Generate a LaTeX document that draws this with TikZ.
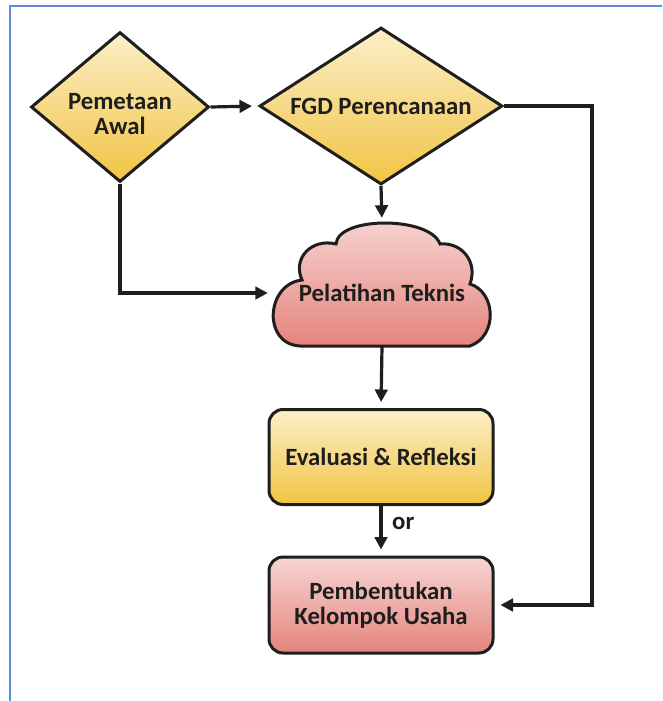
\documentclass[tikz,border=0pt]{standalone}
\usepackage{fontspec}
\setmainfont{Carlito}
\usetikzlibrary{shapes.geometric,arrows.meta,calc}
\definecolor{ylight}{HTML}{FCEFC9}
\definecolor{ydark}{HTML}{F1C443}
\definecolor{plight}{HTML}{F7D5D3}
\definecolor{pdark}{HTML}{E5847C}
\definecolor{framec}{HTML}{5B8ED6}
\definecolor{inkc}{HTML}{1E1E1E}
\begin{document}
\begin{tikzpicture}[x=1pt,y=-1pt,
  framel/.style={draw=framec, line width=2.4pt},
  outl/.style={draw=inkc, line width=3pt},
  txt/.style={font=\fontsize{24.8}{24.5}\selectfont\bfseries, text=inkc, align=center},
  dia/.style={outl, txt, shape=diamond, inner sep=0pt, top color=ylight, bottom color=ydark},
  boxy/.style={outl, txt, rounded corners=14pt, minimum width=224pt, minimum height=95pt, top color=ylight, bottom color=ydark},
  boxp/.style={outl, txt, rounded corners=14pt, minimum width=224pt, minimum height=96pt, top color=plight, bottom color=pdark},
  cloudsty/.style={outl, top color=plight, bottom color=pdark},
  arr/.style={draw=inkc, line width=3.2pt, -{Triangle[length=12.5pt,width=12.5pt]}, shorten >=6pt},
]
\useasboundingbox (0,0) rectangle (662,701);
\fill[white] (0,0) rectangle (662,701);
\draw[framel] (9,6) -- (662,6);
\draw[framel] (10,6) -- (10,701);

\node[dia, minimum width=178pt, minimum height=150pt, aspect=1.19] (d1) at (120,107) {};
\node[txt] (d1text) at (120,114) {Pemetaan\\Awal};
\node[dia, minimum width=243pt, minimum height=157pt, aspect=1.55] (d2) at (381,106) {FGD Perencanaan};

\path[cloudsty] (300,346) -- (470,346)
  .. controls (498,336) and (496,292) .. (470,284)
  .. controls (478,262) and (462,242) .. (440,244)
  .. controls (430,216) and (338,216) .. (336,244)
  .. controls (312,238) and (292,258) .. (302,280)
  .. controls (266,284) and (262,344) .. (300,346) -- cycle;
\node[inner sep=0pt, minimum width=216pt, minimum height=122pt] (cl) at (382,285) {};
\node[txt] (cltext) at (382,293) {Pelatihan Teknis};

\node[boxy] (ev) at (381,457) {Evaluasi \& Refleksi};
\node[boxp] (pk) at (381,605) {Pembentukan\\Kelompok Usaha};
\coordinate (rx) at (592,0);

\draw[arr] (d1.east) -- (d2.west);
\draw[arr] (d2.south) -- (cl.north);
\draw[arr] (d1.south) |- ($(cl.west)+(0,8)$);
\draw[arr] (cl.south) -- (ev.north);
\draw[arr] (ev.south) -- (pk.north);
\node[txt, anchor=west, inner sep=0pt] (orl) at (392,523) {or};
\draw[arr] (d2.east) -- (d2.east -| rx) |- (pk.east);
\end{tikzpicture}
\end{document}
